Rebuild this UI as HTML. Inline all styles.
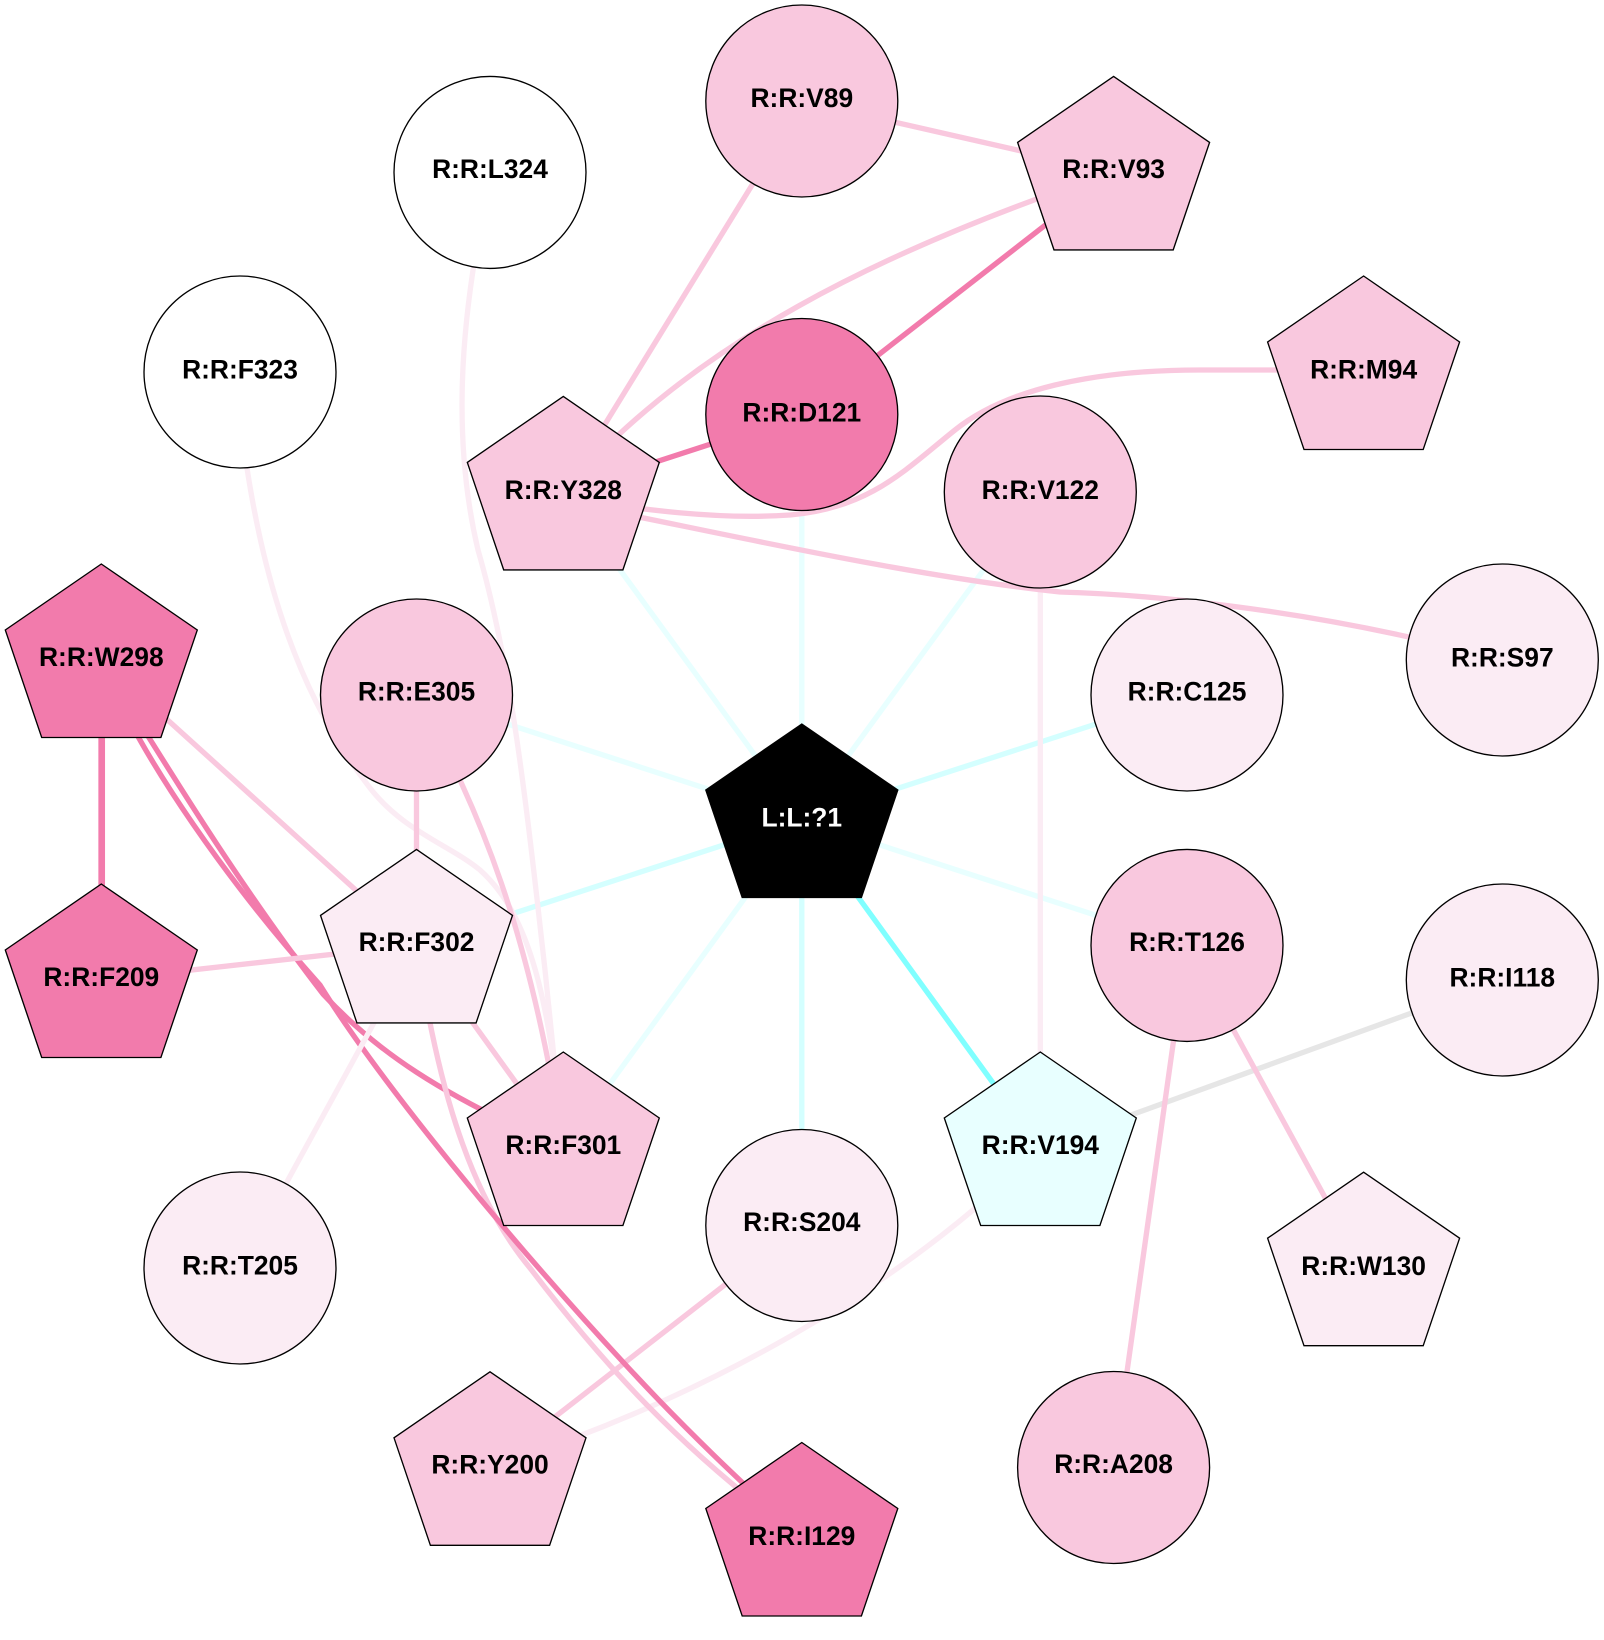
<!DOCTYPE html>
<html><head><meta charset="utf-8"><style>
html,body{margin:0;padding:0;background:#fff}
svg{display:block}
text{font-family:"Liberation Sans",sans-serif;font-weight:bold;font-size:26.4px;text-anchor:middle;fill:#000}
.e{fill:none;stroke-width:5.33}
.n{stroke:#000;stroke-width:1.33}
</style></head><body>
<svg width="1604" height="1640" viewBox="0 0 1604 1640" xmlns="http://www.w3.org/2000/svg">
<rect width="1604" height="1640" fill="#fff"/>
<g class="edges">
<g class="e" stroke="#e8ffff">
<line x1="801.8" y1="819.5" x2="563.3" y2="492"/>
<line x1="801.8" y1="819.5" x2="801.8" y2="414.5"/>
<line x1="801.8" y1="819.5" x2="1040.3" y2="492"/>
<line x1="801.8" y1="819.5" x2="416.5" y2="694.5"/>
<line x1="801.8" y1="819.5" x2="1187" y2="945"/>
<line x1="801.8" y1="819.5" x2="563.3" y2="1148"/>
</g>
<g class="e" stroke="#d4ffff">
<line x1="801.8" y1="819.5" x2="1187" y2="694.5"/>
<line x1="801.8" y1="819.5" x2="416.5" y2="945"/>
<line x1="801.8" y1="819.5" x2="801.8" y2="1225"/>
</g>
<line class="e" stroke="#80ffff" x1="801.8" y1="819.5" x2="1040.3" y2="1148"/>
<line class="e" stroke="#e6e6e6" x1="1040.3" y1="1148" x2="1502.3" y2="980"/>
<g class="e" stroke="#fbecf4">
<line x1="1040.3" y1="492" x2="1040.3" y2="1148"/>
<path d="M478,240 C462,330 452,440 478,550 C510,660 525,790 545,970 L563.3,1148"/>
<path d="M243,440 C260,570 295,690 367,784 C400,830 450,845 480,870 C530,915 550,1000 563.3,1148"/>
<path d="M490,1467.4 C700,1400 900,1290 1040.3,1148"/>
</g>
<g class="e" stroke="#f9c8de">
<line x1="801.8" y1="101" x2="1113.6" y2="172"/>
<line x1="802.5" y1="103" x2="563.3" y2="492"/>
<path d="M563.3,492 C690,345 880,250 1113.6,172"/>
<path d="M563.3,497 C640,510 720,520 790,515 C870,508 905,470 955,430 C1005,390 1090,370 1200,370 L1363.6,370"/>
<path d="M563.3,502 C700,528 900,575 1060,592 C1130,594 1300,605 1502.3,660"/>
<path d="M416.5,694.5 C480,810 530,930 563.3,1148"/>
<line x1="416.5" y1="694.5" x2="416.5" y2="945"/>
<line x1="101.3" y1="660" x2="416.5" y2="945"/>
<line x1="416.5" y1="945" x2="563.3" y2="1148"/>
<line x1="801.8" y1="1225" x2="490" y2="1467.4"/>
<line x1="1187" y1="945" x2="1113.6" y2="1467"/>
<line x1="1187" y1="945" x2="1363.6" y2="1268"/>
</g>
<g class="e" stroke="#f27bac">
<line x1="801.8" y1="414.5" x2="1113.6" y2="172"/>
<line x1="801.8" y1="414.5" x2="563.3" y2="492"/>
<line x1="101.7" y1="660" x2="101.7" y2="980" stroke-width="6.67"/>
<path d="M110,675 C160,755 235,880 323,994 C375,1050 440,1095 563.3,1148"/>
</g>
<path class="e" stroke="#f9c8de" d="M416.5,945 C435,1070 465,1190 530,1268 C600,1360 680,1450 801.8,1538"/>
<path class="e" stroke="#f27bac" d="M101.3,660 C140,760 235,890 320,985 C380,1082 510,1240 623,1362 C690,1435 750,1490 801.8,1538"/>
<line class="e" stroke="#fbecf4" x1="416.5" y1="945" x2="240" y2="1267.6"/>
<line class="e" stroke="#f9c8de" x1="101.3" y1="980" x2="416.5" y2="945"/>
</g>
<g class="nodes">
<circle class="n" cx="240" cy="372" r="96" fill="#fff"/><text x="240" y="378.6">R:R:F323</text>
<circle class="n" cx="490" cy="172.4" r="96" fill="#fff"/><text x="490" y="178">R:R:L324</text>
<circle class="n" cx="801.8" cy="101" r="96" fill="#f9c8de"/><text x="801.8" y="107">R:R:V89</text>
<circle class="n" cx="801.8" cy="414.5" r="96" fill="#f27bac"/><text x="801.8" y="421.5">R:R:D121</text>
<circle class="n" cx="1040.3" cy="492" r="96" fill="#f9c8de"/><text x="1040.3" y="499">R:R:V122</text>
<circle class="n" cx="1502.3" cy="660" r="96" fill="#fbecf4"/><text x="1502.3" y="666.7">R:R:S97</text>
<circle class="n" cx="1187" cy="695" r="96" fill="#fbecf4"/><text x="1187" y="700.5">R:R:C125</text>
<circle class="n" cx="1187" cy="945.4" r="96" fill="#f9c8de"/><text x="1187" y="951">R:R:T126</text>
<circle class="n" cx="416.5" cy="695" r="96" fill="#f9c8de"/><text x="416.5" y="700.5">R:R:E305</text>
<circle class="n" cx="1502.3" cy="980" r="96" fill="#fbecf4"/><text x="1502.3" y="986.6">R:R:I118</text>
<circle class="n" cx="801.8" cy="1225.5" r="96" fill="#fbecf4"/><text x="801.8" y="1231">R:R:S204</text>
<circle class="n" cx="240" cy="1268" r="96" fill="#fbecf4"/><text x="240" y="1274.6">R:R:T205</text>
<circle class="n" cx="1113.6" cy="1467.5" r="96" fill="#f9c8de"/><text x="1113.6" y="1473">R:R:A208</text>

<g transform="translate(801.8,724)"><polygon class="n" fill="#000" points="0,0 96,66 59.6,173.5 -59.6,173.5 -96,66"/><text y="102.5" style="fill:#fff">L:L:?1</text></g>
<g transform="translate(101.3,564)"><polygon class="n" fill="#f27bac" points="0,0 96,66 59.6,173.5 -59.6,173.5 -96,66"/><text y="102">R:R:W298</text></g>
<g transform="translate(101.3,884)"><polygon class="n" fill="#f27bac" points="0,0 96,66 59.6,173.5 -59.6,173.5 -96,66"/><text y="102">R:R:F209</text></g>
<g transform="translate(1113.6,76.4)"><polygon class="n" fill="#f9c8de" points="0,0 96,66 59.6,173.5 -59.6,173.5 -96,66"/><text y="101.6">R:R:V93</text></g>
<g transform="translate(1363.6,276)"><polygon class="n" fill="#f9c8de" points="0,0 96,66 59.6,173.5 -59.6,173.5 -96,66"/><text y="102.6">R:R:M94</text></g>
<g transform="translate(563.3,396.4)"><polygon class="n" fill="#f9c8de" points="0,0 96,66 59.6,173.5 -59.6,173.5 -96,66"/><text y="102.6">R:R:Y328</text></g>
<g transform="translate(416.5,849.4)"><polygon class="n" fill="#fbecf4" points="0,0 96,66 59.6,173.5 -59.6,173.5 -96,66"/><text y="101.6">R:R:F302</text></g>
<g transform="translate(563.3,1052)"><polygon class="n" fill="#f9c8de" points="0,0 96,66 59.6,173.5 -59.6,173.5 -96,66"/><text y="102">R:R:F301</text></g>
<g transform="translate(1040.3,1052)"><polygon class="n" fill="#e8ffff" points="0,0 96,66 59.6,173.5 -59.6,173.5 -96,66"/><text y="102">R:R:V194</text></g>
<g transform="translate(1363.6,1172.2)"><polygon class="n" fill="#fbecf4" points="0,0 96,66 59.6,173.5 -59.6,173.5 -96,66"/><text y="103">R:R:W130</text></g>
<g transform="translate(490,1371.8)"><polygon class="n" fill="#f9c8de" points="0,0 96,66 59.6,173.5 -59.6,173.5 -96,66"/><text y="101.6">R:R:Y200</text></g>
<g transform="translate(801.8,1442.5)"><polygon class="n" fill="#f27bac" points="0,0 96,66 59.6,173.5 -59.6,173.5 -96,66"/><text y="102.5">R:R:I129</text></g>
</g>
</svg>
</body></html>
